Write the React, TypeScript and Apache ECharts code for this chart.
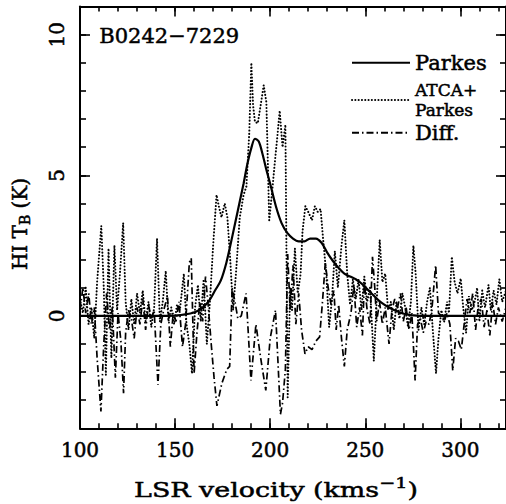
import React, { useEffect, useRef } from "react";
import * as echarts from "echarts";

// ---- data (velocity km/s, brightness temperature K) ----
const parkes: [number, number][] = [
  [100, 0], [120, 0], [140, 0], [150, 0.01], [153, 0.03], [156, 0.06], [159, 0.1], [162, 0.18], [165, 0.32],
  [168, 0.55], [171, 0.9], [174, 1.25], [177, 1.9], [180, 2.8], [183, 3.75], [186, 4.7], [188, 5.4], [190, 5.95],
  [192, 6.3], [194, 6.2], [196, 5.75], [198, 5.2], [200, 4.7], [203, 3.9], [206, 3.3], [209, 2.95], [212, 2.75],
  [215, 2.65], [218, 2.65], [221, 2.75], [224, 2.75], [227, 2.6], [230, 2.25], [233, 1.95], [236, 1.7], [239, 1.5],
  [242, 1.4], [245, 1.3], [248, 1.15], [251, 0.95], [254, 0.75], [257, 0.55], [260, 0.4], [263, 0.28], [266, 0.18],
  [269, 0.1], [272, 0.05], [275, 0.02], [278, 0], [300, 0], [324, 0],
];

const atcaParkes: [number, number][] = [
  [100, 0.6], [101.5, 0.1], [103, 1.0], [104.5, -0.3], [106, 0.3], [107.5, -0.8], [109, 1.2], [111.2, 3.2],
  [112.5, 1.0], [113.6, -2.1], [115, 2.4], [116.5, -1.5], [118.1, 2.5], [119.5, 0.2], [121, 1.5], [122.7, 3.3],
  [124, 0.5], [125.5, -0.5], [127, 0.6], [128.5, -0.3], [130, 0.8], [131.5, 0.1], [133, 0.9], [134.5, -0.2],
  [136, 0.5], [137.5, -0.4], [139, 0.3], [140.5, 2.75], [142, -0.2], [143.5, 0.5], [145.1, 1.6], [146.5, -0.2],
  [148, 0.3], [149.5, -0.3], [151, 0.4], [152.5, 0.2], [154.6, 1.5], [156, -0.3], [157.5, -1.0], [158.9, -2.05],
  [160.5, 0.3], [162, 1.1], [163.5, -0.2], [165, 1.3], [166.7, -1.0], [168.3, 0.5], [170, 2.5], [171.8, 4.3],
  [173, 3.9], [174.4, 3.5], [176.1, 4.0], [177.5, 3.5], [179, 2.0], [180.5, 0.2], [182, 1.5], [184, 3.5],
  [186, 4.3], [187.5, 4.6], [189, 6.5], [190.1, 9.0], [191, 7.5], [192, 6.9], [193.5, 6.85], [195, 7.5],
  [196.6, 8.2], [198, 7.6], [199.5, 3.4], [201, 4.4], [202.5, 5.5], [203.8, 6.4], [205, 7.3], [206.5, 6.0],
  [208, 6.8], [209.2, -2.9], [210.5, 1.0], [211.5, 0.2], [213, 2.4], [214.5, 0.8], [216, 1.5], [217, 3.0],
  [218.5, 3.9], [220, 3.7], [222, 3.4], [223.5, 3.9], [225, 3.7], [226.5, 3.8], [228, 2.6], [229.5, 1.5],
  [231, -0.4], [232.5, 0.6], [234, 2.3], [235.6, 1.0], [237.5, 2.5], [239, 3.4], [240.5, 1.5], [242, 0.4],
  [243.5, 1.3], [245, 0.6], [246.5, 1.3], [248, 0.2], [249.5, 1.4], [251, 0.5], [252.5, 1.0], [254.5, -1.6],
  [256, 0.5], [257.6, 2.7], [259, 1.2], [260.5, 1.5], [262, 0.2], [263.5, 0.5], [265, -0.5], [266.5, 0.5],
  [268, -0.1], [269.5, 0.8], [271, 0.3], [272.5, -0.4], [274, 0.5], [275.3, 2.5], [276.5, 1.5], [278, -0.5],
  [279.5, 0.3], [281, -0.3], [282.5, 0.5], [284, 1.0], [285.5, -0.5], [287.2, -2.05], [288.5, -0.8], [290, 0.2],
  [291.5, -0.2], [293, 0.5], [294, 0.1], [295.5, 2.1], [297, 1.2], [298.5, 0.8], [300.2, 1.33], [301.5, 0.3],
  [303, -0.6], [304.5, 0.7], [306, 0.2], [307.5, 0.5], [308.8, 1.0], [310, -0.2], [311.5, 0.9], [313, 0.3],
  [314.8, 1.1], [316, 0.2], [317.5, 0.9], [319, 0.4], [320.5, 1.3], [322, 0.5], [324, 0.9],
];

const diff: [number, number][] = [
  [100, 0.2], [101.5, 1.0], [103, 0.1], [104.6, 0.8], [106, -0.3], [107.5, 0.3], [109, -1.5], [111, -3.4],
  [112.5, -1.0], [114, 0.8], [115.5, -0.5], [117, 0.3], [118.6, -2.2], [120, 0.1], [121.5, -0.9], [122.9, -2.75],
  [124, -0.6], [125.5, 0.2], [127, -0.1], [128.5, -0.8], [130, 0.3], [131.5, -0.3], [133, 0.6], [134.5, -0.5],
  [136, 0.4], [137.5, -0.1], [139, 0.2], [141, -2.45], [142.5, -0.3], [144, 0.2], [146, 0.7], [147.5, -1.1],
  [149, 0.1], [150.5, -0.2], [152, 0.5], [153.9, -1.1], [155.5, -0.3], [157.5, 1.9], [158.5, 2.05], [160, -2.05],
  [161.5, -0.6], [163, 0.5], [164.5, -0.2], [166, 1.4], [167.5, 0.3], [169, -1.0], [170.5, -2.2], [172, -3.2],
  [174.6, -2.4], [177.2, -1.9], [178.7, -1.8], [180, 1.0], [181.5, 0.5], [183, -0.1], [184.8, 0.0], [187.3, 0.8],
  [189.9, -2.3], [192.5, -0.3], [195, -1.5], [197.7, -2.65], [200, -0.8], [202.8, 0.2], [205.4, -3.5],
  [206.5, -3.1], [208, -1.9], [209.2, 2.2], [210.5, 0.2], [212, 1.8], [213.5, -0.3], [215, 0.8], [216.5, -0.5],
  [218.3, -1.35], [220, -1.1], [222, -1.2], [224, -0.9], [226, -0.75], [227.5, 0.5], [229, 1.9], [230.5, 1.0],
  [232, 0.4], [233.5, 0.9], [234.7, -0.5], [236, 0.4], [237.5, -0.8], [239, -1.8], [240.5, -0.5], [242.5, 0.1],
  [244, 1.1], [245.5, -0.4], [247, 0.3], [248.5, -0.7], [249.5, 1.15], [251, 0.2], [252.5, -0.3], [253.8, 2.1],
  [255, 1.0], [256, -0.2], [257.5, 0.5], [259, -0.3], [260.5, 0.3], [262.5, -1.0], [264, 0.2], [265.5, 0.6],
  [267, 0.3], [268.5, 0.8], [270, -0.2], [271.5, 0.3], [273, -0.5], [274.5, 0.1], [276.2, -2.3], [277.5, -0.3],
  [279, -0.1], [280.5, -0.6], [282, -0.2], [283.5, -0.3], [285, 0.2], [287, 1.8], [288.5, 0.1], [290, 0.0],
  [291.5, -0.2], [293, 0.1], [294.5, -0.3], [296, -1.95], [297.5, -0.8], [299, -0.9], [300.5, -1.2], [302, -0.3],
  [303.5, 0.6], [305, 0.1], [306.5, 0.8], [308, -0.5], [309.5, 0.4], [311, 0.6], [312.5, -0.4], [314, 0.2],
  [315.5, -0.7], [317, 0.5], [318.5, -0.3], [320, 0.3], [322, -0.2], [324, 0.3],
];

const xMajor = [100, 150, 200, 250, 300];
const yMajor = [0, 5, 10];
const title = "B0242\u22127229";
const seriesNames = ["Parkes", "ATCA+Parkes", "Diff."];

const FONT = "'DejaVu Serif', serif";

export default function App() {
  const ref = useRef<HTMLDivElement>(null);
  useEffect(() => {
    const chart = echarts.init(ref.current!, null, { renderer: "svg" });
    const X_MIN = 100, X_MAX = 324, Y_MIN = -4, Y_MAX = 11;
    const black = "#000";
    const heavy = { textBorderColor: black, textBorderWidth: 0.5 };
    const mkX = (pos: string, major: boolean, labels: boolean) => ({
      type: "value",
      position: pos,
      min: X_MIN,
      max: X_MAX,
      interval: 10,
      axisLine: { show: !major, onZero: false, lineStyle: { color: black, width: 2 } },
      axisTick: major
        ? { show: true, inside: true, length: 10, customValues: xMajor, lineStyle: { color: black, width: 1.6 } }
        : { show: true, inside: true, length: 5, lineStyle: { color: black, width: 1.6 } },
      axisLabel: labels
        ? { show: true, customValues: xMajor, color: black, fontFamily: FONT, fontSize: 20, margin: 12, ...heavy }
        : { show: false },
      splitLine: { show: false },
    });
    const mkY = (pos: string, major: boolean, labels: boolean) => ({
      type: "value",
      position: pos,
      min: Y_MIN,
      max: Y_MAX,
      interval: 1,
      axisLine: { show: !major, onZero: false, lineStyle: { color: black, width: 2 } },
      axisTick: major
        ? { show: true, inside: true, length: 10, customValues: yMajor, lineStyle: { color: black, width: 1.6 } }
        : { show: true, inside: true, length: 6, lineStyle: { color: black, width: 1.6 } },
      axisLabel: labels
        ? { show: true, customValues: yMajor, rotate: 90, color: black, fontFamily: FONT, fontSize: 20, margin: 13, ...heavy }
        : { show: false },
      splitLine: { show: false },
    });
    const legendBase = {
      orient: "vertical",
      padding: 0,
      itemWidth: 58,
      itemHeight: 12,
      selectedMode: false,
      itemStyle: { opacity: 0 },
      textStyle: { fontFamily: FONT, fontSize: 21, color: black, ...heavy },
    };
    chart.setOption({
      animation: false,
      backgroundColor: "#fff",
      color: [black, black, black],
      grid: { left: 80, top: 6.6, width: 433, height: 421.7, containLabel: false },
      xAxis: [mkX("bottom", false, false), mkX("bottom", true, true), mkX("top", false, false), mkX("top", true, false)],
      yAxis: [mkY("left", false, false), mkY("left", true, true), mkY("right", false, false), mkY("right", true, false)],
      legend: [
        { ...legendBase, data: [seriesNames[0]], left: 351, top: 52, textStyle: { ...legendBase.textStyle, lineHeight: 20 } },
        {
          ...legendBase,
          data: [seriesNames[1]],
          left: 351,
          top: 80,
          formatter: () => "ATCA+\nParkes",
          textStyle: { ...legendBase.textStyle, fontSize: 17, lineHeight: 20 },
        },
        { ...legendBase, data: [seriesNames[2]], left: 351, top: 122, textStyle: { ...legendBase.textStyle, lineHeight: 20 } },
      ],
      graphic: [
        {
          type: "text",
          left: 99,
          top: 25,
          style: { text: title, fontFamily: FONT, fontSize: 21, fill: black, stroke: black, lineWidth: 0.5 },
        },
        {
          type: "text",
          x: 276,
          y: 490,
          scaleX: 1.28,
          style: {
            text: "LSR velocity (kms{sup|\u22121})",
            fontFamily: FONT,
            fontSize: 21,
            fill: black,
            stroke: black,
            lineWidth: 0.5,
            align: "center",
            verticalAlign: "middle",
            rich: { sup: { fontFamily: FONT, fontSize: 15, padding: [0, 0, 14, 0] } },
          },
        },
        {
          type: "text",
          x: 20,
          y: 224,
          rotation: Math.PI / 2,
          style: {
            text: "HI T{sub|B} (K)",
            fontFamily: FONT,
            fontSize: 20,
            fill: black,
            stroke: black,
            lineWidth: 0.5,
            align: "center",
            verticalAlign: "middle",
            rich: { sub: { fontFamily: FONT, fontSize: 14, padding: [10, 0, 0, 0] } },
          },
        },
      ],
      series: [
        {
          name: seriesNames[1],
          type: "line",
          data: atcaParkes,
          showSymbol: false,
          symbol: "none",
          clip: true,
          itemStyle: { color: black },
          lineStyle: { color: black, width: 2, type: [0.1, 3.2], cap: "round" },
          z: 2,
        },
        {
          name: seriesNames[2],
          type: "line",
          data: diff,
          showSymbol: false,
          symbol: "none",
          clip: true,
          itemStyle: { color: black },
          lineStyle: { color: black, width: 1.7, type: [7, 3, 1.5, 3] },
          z: 2,
        },
        {
          name: seriesNames[0],
          type: "line",
          data: parkes,
          showSymbol: false,
          symbol: "none",
          smooth: 0.3,
          clip: true,
          itemStyle: { color: black },
          lineStyle: { color: black, width: 2.2 },
          z: 3,
        },
      ],
    });
    return () => chart.dispose();
  }, []);
  return <div ref={ref} style={{ position: "absolute", left: 0, top: 0, width: 506, height: 504 }} />;
}
